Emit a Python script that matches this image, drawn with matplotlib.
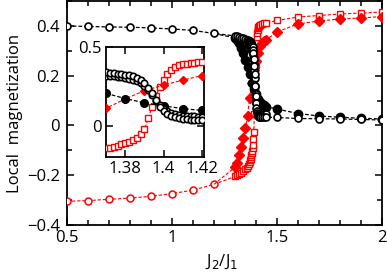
import numpy as np
import matplotlib
matplotlib.use("Agg")
import matplotlib.pyplot as plt
from matplotlib.ticker import MultipleLocator, FuncFormatter

plt.rcParams['font.family'] = ['Open Sans', 'DejaVu Sans']
plt.rcParams['font.size'] = 12

# coarse grid (left part)
coarse_x = [0.5, 0.6, 0.7, 0.8, 0.9, 1.0, 1.1, 1.2]
black_coarse_y = [0.400, 0.398, 0.396, 0.395, 0.392, 0.388, 0.382, 0.370]
red_coarse_y = [-0.305, -0.302, -0.297, -0.292, -0.285, -0.274, -0.260, -0.237]

# fine grid around the transition
dense_x = [1.30, 1.31, 1.32, 1.33, 1.34, 1.35, 1.355, 1.36, 1.365, 1.37,
           1.372, 1.374, 1.376, 1.378, 1.38, 1.382, 1.384, 1.386, 1.388, 1.39,
           1.392, 1.394, 1.396, 1.398, 1.40, 1.402, 1.404, 1.406, 1.408, 1.41,
           1.412, 1.414, 1.416, 1.418, 1.42, 1.43, 1.44, 1.45,
           1.5, 1.6, 1.7, 1.8, 1.9, 2.0]
black_dense_y = [0.360, 0.358, 0.355, 0.352, 0.350, 0.347, 0.345, 0.343, 0.341, 0.338,
                 0.335, 0.333, 0.330, 0.327, 0.324, 0.320, 0.314, 0.305, 0.290, 0.268,
                 0.240, 0.205, 0.160, 0.120, 0.090, 0.072, 0.060, 0.052, 0.046, 0.042,
                 0.039, 0.037, 0.035, 0.034, 0.033, 0.032, 0.033, 0.034,
                 0.032, 0.028, 0.027, 0.026, 0.024, 0.022]
red_dense_y = [-0.205, -0.200, -0.195, -0.190, -0.183, -0.175, -0.170, -0.164, -0.156, -0.145,
               -0.140, -0.135, -0.128, -0.120, -0.112, -0.104, -0.092, -0.077, -0.055, -0.025,
               0.045, 0.120, 0.190, 0.245, 0.290, 0.330, 0.355, 0.372, 0.385, 0.391,
               0.395, 0.398, 0.400, 0.402, 0.404, 0.408, 0.410, 0.412,
               0.422, 0.436, 0.442, 0.448, 0.452, 0.456]

# second open-circle curve (close to the first one)
black2_x = [1.36, 1.365, 1.37, 1.372, 1.374, 1.376, 1.378, 1.38, 1.382, 1.384,
            1.386, 1.388, 1.39, 1.392, 1.394, 1.396, 1.398, 1.40, 1.402, 1.404,
            1.406, 1.408, 1.41, 1.412, 1.414, 1.416, 1.418, 1.42, 1.43, 1.44, 1.45]
black2_y = [0.325, 0.322, 0.318, 0.316, 0.314, 0.311, 0.308, 0.304, 0.299, 0.292,
            0.282, 0.268, 0.249, 0.224, 0.192, 0.158, 0.128, 0.106, 0.090, 0.080,
            0.073, 0.068, 0.064, 0.062, 0.060, 0.058, 0.057, 0.056, 0.052, 0.048, 0.045]

# sparse series (filled symbols), first point is the joint at J2/J1 = 1.2
sparse_x = [1.2, 1.30, 1.31, 1.32, 1.33, 1.34, 1.35, 1.36, 1.37, 1.38, 1.39, 1.40,
            1.41, 1.42, 1.43, 1.44, 1.45, 1.5, 1.6, 1.7, 1.8, 1.9, 2.0]
black_filled_y = [0.370, 0.352, 0.342, 0.330, 0.312, 0.290, 0.265, 0.235, 0.205, 0.172, 0.145, 0.125,
                  0.108, 0.096, 0.088, 0.081, 0.076, 0.066, 0.048, 0.038, 0.033, 0.029, 0.026]
red_filled_y = [-0.237, -0.168, -0.150, -0.120, -0.088, -0.050, -0.010, 0.040, 0.110, 0.170, 0.222, 0.258,
                0.290, 0.318, 0.330, 0.338, 0.345, 0.376, 0.408, 0.420, 0.428, 0.432, 0.438]

RED = '#ff0000'
DASH = (3, 1.6)


def draw(ax, ms=5.0):
    # red open: circles (coarse) + squares (dense), one dashed line
    ax.plot(coarse_x + dense_x, red_coarse_y + red_dense_y, color=RED, lw=0.8, dashes=DASH, zorder=2)
    ax.plot(coarse_x, red_coarse_y, ls='none', marker='o', ms=ms, mfc='white', mec=RED, mew=1.1, zorder=3)
    ax.plot(dense_x, red_dense_y, ls='none', marker='s', ms=ms * 0.95, mfc='white', mec=RED, mew=1.0, zorder=3)
    # red filled diamonds
    ax.plot(sparse_x, red_filled_y, color=RED, lw=0.8, dashes=DASH, marker='D', ms=ms * 0.95,
            mfc=RED, mec=RED, markevery=slice(1, None), zorder=3)
    # black filled circles
    ax.plot(sparse_x, black_filled_y, color='black', lw=0.9, dashes=DASH, marker='o', ms=ms * 1.2,
            mfc='black', mec='black', markevery=slice(1, None), zorder=4)
    # black open circles
    ax.plot(black2_x, black2_y, color='black', lw=0.9, dashes=DASH, marker='o', ms=ms,
            mfc='white', mec='black', mew=1.2, zorder=4)
    ax.plot(coarse_x + dense_x, black_coarse_y + black_dense_y, color='black', lw=0.9, dashes=DASH,
            marker='o', ms=ms, mfc='white', mec='black', mew=1.2, zorder=5)


def fmt(v, pos):
    s = '%g' % round(v, 3)
    return s.replace('-', '\u2212')


fig = plt.figure(figsize=(3.87, 2.72), dpi=100)
ax = fig.add_axes([0.173, 0.173, 0.814, 0.823])
draw(ax)
ax.set_xlim(0.5, 2.0)
ax.set_ylim(-0.4, 0.5)
ax.xaxis.set_major_locator(MultipleLocator(0.5))
ax.xaxis.set_minor_locator(MultipleLocator(0.1))
ax.set_yticks([-0.4, -0.2, 0, 0.2, 0.4])
ax.yaxis.set_minor_locator(MultipleLocator(0.1))
ax.xaxis.set_major_formatter(FuncFormatter(fmt))
ax.yaxis.set_major_formatter(FuncFormatter(fmt))
ax.tick_params(which='both', direction='in', top=True, right=True, width=1.1, labelsize=12)
ax.tick_params(axis='x', pad=4)
ax.tick_params(axis='y', pad=5)
ax.tick_params(which='major', length=5)
ax.tick_params(which='minor', length=3.5)
for s in ax.spines.values():
    s.set_linewidth(1.3)
ax.set_xlabel('J$_2$/J$_1$', fontsize=12, va='center')
ax.xaxis.set_label_coords(0.49, -0.165)
ax.set_ylabel('Local  magnetization', fontsize=12, va='center')
ax.yaxis.set_label_coords(-0.165, 0.5)

# inset
ins = fig.add_axes([0.274, 0.423, 0.253, 0.404])
draw(ins, ms=4.6)
ins.set_xlim(1.370, 1.421)
ins.set_ylim(-0.2, 0.5)
ins.set_xticks([1.38, 1.40, 1.42])
ins.set_yticks([0, 0.5])
ins.xaxis.set_major_formatter(FuncFormatter(fmt))
ins.yaxis.set_major_formatter(FuncFormatter(fmt))
ins.tick_params(which='both', direction='in', top=True, right=True, width=1.1, length=5,
                labelsize=12, pad=3)
for s in ins.spines.values():
    s.set_linewidth(1.3)

fig.savefig('out.png', dpi=100)
